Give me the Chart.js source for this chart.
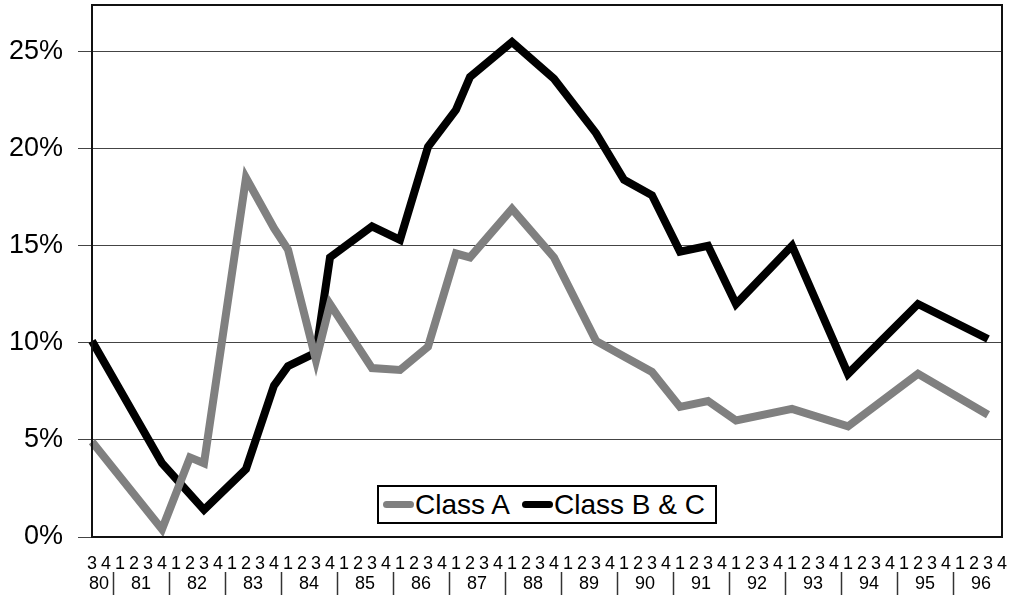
<!DOCTYPE html>
<html>
<head>
<meta charset="utf-8">
<script src="https://cdn.jsdelivr.net/npm/chart.js@4/dist/chart.umd.min.js"></script>
<style>
  html, body { margin: 0; padding: 0; background: #fff; }
  #wrap { position: relative; width: 1011px; height: 597px; }
  #legend {
    position: absolute; left: 377px; top: 485px; width: 336px; height: 35px;
    border: 2px solid #000; background: #fff;
    display: flex; align-items: center;
    font-family: "Liberation Sans", Arial, sans-serif; font-size: 28px; color: #000;
  }
  .sw { display: inline-block; width: 31px; height: 7px; border-radius: 4px; margin-left: 4px; margin-right: 1px; }
  .item { display: flex; align-items: center; white-space: nowrap; }
</style>
</head>
<body>
<div id="wrap">
  <canvas id="c" width="1011" height="597"></canvas>
  <div id="legend"></div>
</div>
<script>
const quarters = ['3','4',
  '1','2','3','4','1','2','3','4','1','2','3','4','1','2','3','4',
  '1','2','3','4','1','2','3','4','1','2','3','4','1','2','3','4',
  '1','2','3','4','1','2','3','4','1','2','3','4','1','2','3','4',
  '1','2','3','4','1','2','3','4','1','2','3','4','1','2','3','4'];
const years = ['80','81','82','83','84','85','86','87','88','89','90','91','92','93','94','95','96'];
const yTicks = [0, 5, 10, 15, 20, 25];

// Class A (%), null = no observation in that quarter
const classA = [
  4.9, null, null, null, null, 0.4, null, 4.1, 3.8, null, null, 18.5, null, 15.9, 14.8, null,
  9.1, 12.0, null, null, 8.7, null, 8.6, null, 9.8, null, 14.6, 14.4, null, null, 16.9, null,
  null, 14.4, null, null, 10.1, null, 9.3, null, 8.5, null, 6.7, null, 7.0, null, 6.0, null,
  null, null, 6.6, null, null, null, 5.7, null, null, null, null, 8.4, null, null, null, null,
  6.3, null];
// Class B & C (%)
const classBC = [
  10.1, null, null, null, null, 3.8, null, null, 1.4, null, null, 3.5, null, 7.8, 8.8, null,
  9.5, 14.4, null, null, 16.0, null, 15.3, null, 20.1, null, 22.0, 23.7, null, null, 25.5, null,
  null, 23.6, null, null, 20.8, null, 18.4, null, 17.6, null, 14.7, null, 15.0, null, 12.0, null,
  null, null, 15.0, null, null, null, 8.4, null, null, null, null, 12.0, null, null, null, null,
  10.2, null];

const seriesNames = ['Class A', 'Class B & C'];
const seriesColors = ['#808080', '#000000'];

Chart.defaults.font.family = '"Liberation Sans", Arial, sans-serif';
Chart.defaults.color = '#000';

const yearPlugin = {
  id: 'yearPlugin',
  afterDatasetsDraw(chart) {
    const ctx = chart.ctx;
    const a = chart.chartArea;
    ctx.save();
    ctx.strokeStyle = '#111';
    ctx.lineWidth = 2;
    ctx.strokeRect(a.left, a.top, a.right - a.left, a.bottom - a.top);
    ctx.restore();
  },
  afterDraw(chart) {
    const ctx = chart.ctx;
    const xs = chart.scales.x;
    const starts = [0];
    quarters.forEach((q, i) => { if (q === '1' && i > 0) starts.push(i); });
    ctx.save();
    ctx.font = '18px "Liberation Sans", Arial, sans-serif';
    ctx.fillStyle = '#000';
    ctx.textAlign = 'center';
    ctx.textBaseline = 'middle';
    ctx.strokeStyle = '#333';
    ctx.lineWidth = 1.5;
    starts.forEach((s, k) => {
      const e = (k + 1 < starts.length ? starts[k + 1] : quarters.length) - 1;
      const cx = (xs.getPixelForValue(s) + xs.getPixelForValue(e)) / 2;
      ctx.fillText(years[k], cx, 584);
      if (k + 1 < starts.length) {
        const sx = Math.round((xs.getPixelForValue(e) + xs.getPixelForValue(e + 1)) / 2) + 0.5;
        ctx.beginPath();
        ctx.moveTo(sx, 572);
        ctx.lineTo(sx, 595);
        ctx.stroke();
      }
    });
    ctx.restore();
  }
};

new Chart(document.getElementById('c'), {
  type: 'line',
  data: {
    labels: quarters,
    datasets: [
      { label: seriesNames[0], data: classA, borderColor: seriesColors[0], backgroundColor: seriesColors[0],
        borderWidth: 8, pointRadius: 0, tension: 0, spanGaps: true, borderJoinStyle: 'miter', borderCapStyle: 'butt' },
      { label: seriesNames[1], data: classBC, borderColor: seriesColors[1], backgroundColor: seriesColors[1],
        borderWidth: 8, pointRadius: 0, tension: 0, spanGaps: true, borderJoinStyle: 'miter', borderCapStyle: 'butt' }
    ]
  },
  options: {
    responsive: false,
    animation: false,
    layout: { padding: { top: 5, right: 9, left: 0, bottom: 0 } },
    plugins: { legend: { display: false }, tooltip: { enabled: false } },
    scales: {
      x: {
        type: 'category',
        offset: false,
        grid: { display: false, drawTicks: false },
        border: { display: false },
        ticks: { autoSkip: false, maxRotation: 0, minRotation: 0, padding: 16,
                 font: { size: 18 }, color: '#000' },
        afterFit(s) { s.height = 60; s.paddingLeft = 0; s.paddingRight = 0; }
      },
      y: {
        min: 0, max: 27.4,
        grid: { color: '#444', lineWidth: 1, tickLength: 14, drawTicks: true },
        border: { display: false },
        ticks: { stepSize: 5, includeBounds: false, padding: 15, font: { size: 27 }, color: '#000',
                 callback: v => yTicks.includes(v) ? v + '%' : '' },
        afterFit(s) { s.width = 92; s.paddingTop = 0; s.paddingBottom = 0; }
      }
    }
  },
  plugins: [yearPlugin]
});

const leg = document.getElementById('legend');
seriesNames.forEach((n, i) => {
  const it = document.createElement('span');
  it.className = 'item';
  if (i > 0) it.style.marginLeft = '8px';
  const sw = document.createElement('span');
  sw.className = 'sw';
  sw.style.background = seriesColors[i];
  const tx = document.createElement('span');
  tx.textContent = n;
  it.appendChild(sw); it.appendChild(tx);
  leg.appendChild(it);
});
</script>
</body>
</html>
